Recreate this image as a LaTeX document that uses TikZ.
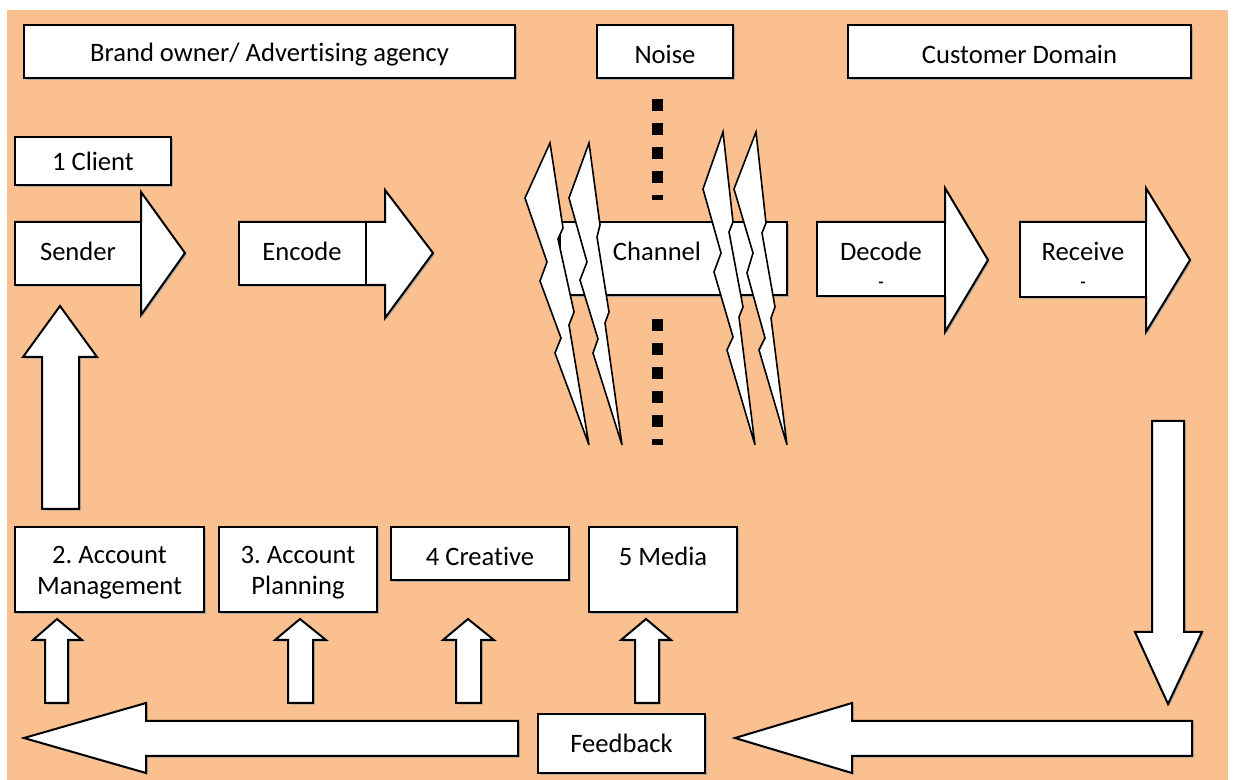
\documentclass[tikz,border=0pt]{standalone}
\usepackage{fontspec}
\setmainfont{Carlito}[Ligatures=NoCommon]
\frenchspacing
\usetikzlibrary{fit,shadows}
\definecolor{bgorange}{HTML}{FAC090}
\tikzset{
  txt/.style={font=\fontsize{13.3}{15.5}\selectfont, inner sep=0pt, align=center},
  low/.style={yshift=-1.5pt},
  box/.style={draw=black, line width=1pt, fill=white, inner sep=0pt,
    general shadow={fill=black!35, shadow xshift=0.8pt, shadow yshift=-0.8pt}},
  plainbox/.style={draw=black, line width=1pt, fill=white, inner sep=0pt},
  blockarrow/.style={draw=black, line width=1pt, fill=white, line join=miter,
    general shadow={fill=black!35, shadow xshift=0.8pt, shadow yshift=-0.8pt}},
  bolt/.style={draw=black, line width=0.8pt, fill=white, line join=miter},
  noisedots/.style={line width=5.5pt, dash pattern=on 6pt off 6pt},
  stray/.style={inner sep=0pt, font=\bfseries\fontsize{8}{8}\selectfont}
}
\begin{document}
\begin{tikzpicture}[x=0.5pt, y=-0.5pt]
\useasboundingbox (0,0) rectangle (1233,780);
\fill[bgorange] (7,10) rectangle (1228,780);

% header boxes
\node[box, fit={(24,25) (515,78)}] (brand) {};
\node[txt, low] (brandtext) at (brand.center) {Brand owner/ Advertising agency};
\node[box, fit={(597,25) (733,78)}] (noise) {};
\node[txt, low] (noisetext) at (noise.center) {Noise};
\node[box, fit={(848,25) (1191,78)}] (domain) {};
\node[txt, low] (domaintext) at (domain.center) {Customer Domain};
\node[box, fit={(15,137) (171,185)}] (client) {};
\node[txt] (clienttext) at (client.center) {1 Client};

% sender and encode block arrows
\draw[blockarrow] (15,222) -- (141,222) -- (141,192) -- (185,253) -- (141,315) -- (141,285) -- (15,285) -- cycle;
\node[plainbox, fit={(15,222) (141,285)}] (sender) {};
\node[txt] (sendertext) at (78,251) {Sender};
\draw[blockarrow] (239,222) -- (385,222) -- (385,190) -- (433,253) -- (385,318) -- (385,285) -- (239,285) -- cycle;
\node[plainbox, fit={(239,222) (366,285)}] (encode) {};
\node[txt] (encodetext) at (302,251) {Encode};

% channel with noise
\node[box, fit={(560,222) (787,295)}] (channel) {};
\node[txt] (channeltext) at (657,251) {Channel};
\draw[noisedots] (657,99) -- (657,200);
\draw[noisedots] (657,319) -- (657,445);
\draw[bolt] (550,143) -- (563,228) -- (558,239) -- (574,312) -- (569,325) -- (589,445)
  -- (555,353) -- (561,338) -- (540,281) -- (547,262) -- (525,198) -- cycle;
\draw[bolt] (589,143) -- (600,225) -- (597,237) -- (609,312) -- (605,323) -- (622,445)
  -- (593,353) -- (598,339) -- (580,280) -- (587,262) -- (569,198) -- cycle;
\draw[bolt] (723,132) -- (733,222) -- (729,232) -- (743,307) -- (739,317) -- (755,445)
  -- (727,350) -- (733,337) -- (714,272) -- (721,253) -- (703,189) -- cycle;
\draw[bolt] (756,132) -- (766,223) -- (762,233) -- (775,307) -- (771,318) -- (787,445)
  -- (759,350) -- (765,338) -- (747,273) -- (753,253) -- (734,189) -- cycle;

% decode and receive block arrows
\draw[blockarrow] (817,222) -- (945,222) -- (945,188) -- (988,260) -- (945,332) -- (945,296) -- (817,296) -- cycle;
\node[plainbox, fit={(817,222) (945,296)}] (decode) {};
\node[txt] (decodetext) at (881,251) {Decode};
\node[stray] (decodemark) at (881,285) {-};
\draw[blockarrow] (1020,222) -- (1146,222) -- (1146,188) -- (1190,260) -- (1146,332) -- (1146,297) -- (1020,297) -- cycle;
\node[plainbox, fit={(1020,222) (1146,297)}] (receive) {};
\node[txt] (receivetext) at (1083,251) {Receive};
\node[stray] (receivemark) at (1083,285) {-};

% vertical block arrows
\draw[blockarrow] (42,509) -- (42,357) -- (23,357) -- (60,306) -- (97,357) -- (79,357) -- (79,509) -- cycle;
\draw[blockarrow] (1152,421) -- (1184,421) -- (1184,632) -- (1202,632) -- (1168,704) -- (1135,632) -- (1152,632) -- cycle;

% agency departments
\node[box, fit={(15,527) (204,612)}] (account) {};
\node[txt, low] (accounttext) at (account.center) {2. Account\\Management};
\node[box, fit={(219,527) (377,612)}] (planning) {};
\node[txt, low] (planningtext) at (planning.center) {3. Account\\Planning};
\node[box, fit={(391,527) (569,580)}] (creative) {};
\node[txt] (creativetext) at (480,556) {4 Creative};
\node[box, fit={(589,527) (737,612)}] (media) {};
\node[txt] (mediatext) at (663,556) {5 Media};

% small feedback arrows into departments
\draw[blockarrow] (45,703) -- (45,640) -- (33,640) -- (57,619) -- (82,640) -- (68,640) -- (68,703) -- cycle;
\draw[blockarrow] (288,703) -- (288,640) -- (275,640) -- (300,619) -- (326,640) -- (313,640) -- (313,703) -- cycle;
\draw[blockarrow] (456,703) -- (456,640) -- (443,640) -- (468,619) -- (494,640) -- (481,640) -- (481,703) -- cycle;
\draw[blockarrow] (635,703) -- (635,640) -- (621,640) -- (646,619) -- (671,640) -- (659,640) -- (659,703) -- cycle;

% feedback loop
\draw[blockarrow] (518,721) -- (146,721) -- (146,703) -- (24,738) -- (146,773) -- (146,756) -- (518,756) -- cycle;
\draw[blockarrow] (1192,721) -- (852,721) -- (852,703) -- (735,738) -- (852,773) -- (852,756) -- (1192,756) -- cycle;
\node[box, fit={(538,714) (705,773)}] (feedback) {};
\node[txt] (feedbacktext) at (feedback.center) {Feedback};
\end{tikzpicture}
\end{document}
